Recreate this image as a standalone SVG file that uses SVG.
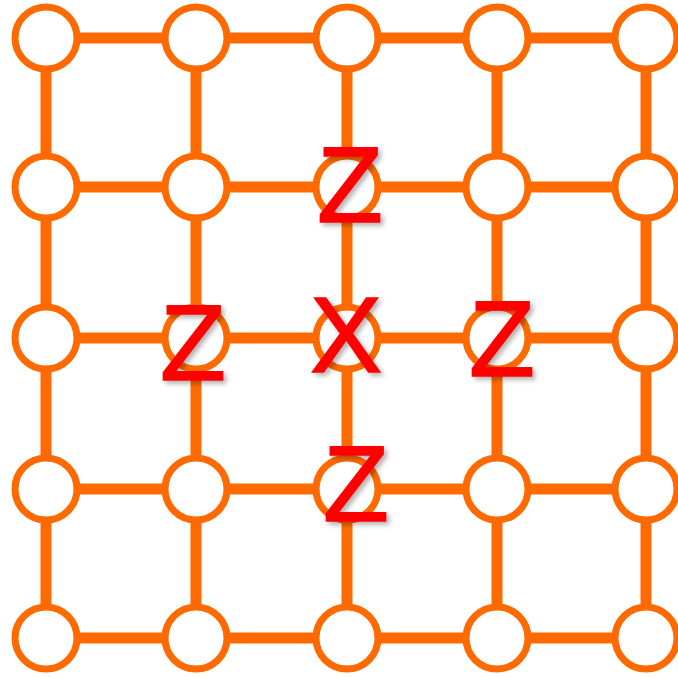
<svg xmlns="http://www.w3.org/2000/svg" width="678" height="677" viewBox="0 0 678 677">
<defs>
<style>
.e{stroke:#FF6A00;stroke-width:11;fill:none}
.n{fill:#fff;stroke:#FF6A00;stroke-width:7}
.l{fill:#FF0000;stroke:#FF0000;stroke-width:1.5;font-family:"Liberation Sans",Arial,sans-serif;font-size:108px;text-anchor:middle;filter:url(#sh)}
</style>
<filter id="sh" x="-30%" y="-30%" width="160%" height="160%">
<feDropShadow dx="3" dy="3" stdDeviation="2.5" flood-color="#000" flood-opacity="0.3"/>
</filter>
</defs>
<rect width="678" height="677" fill="#fff"/>
<g id="connectors">
<path class="e" d="M46 38H646M46 187H646M46 338H646M46 489H646M46 638H646M46 38V638M196 38V638M347 38V638M497 38V638M646 38V638"/>
</g>
<g id="r0">
<circle id="n00" class="n" cx="46" cy="38" r="31"/>
<circle id="n01" class="n" cx="196" cy="38" r="31"/>
<circle id="n02" class="n" cx="347" cy="38" r="31"/>
<circle id="n03" class="n" cx="497" cy="38" r="31"/>
<circle id="n04" class="n" cx="646" cy="38" r="31"/>
</g>
<g id="r1">
<circle id="n10" class="n" cx="46" cy="187" r="31"/>
<circle id="n11" class="n" cx="196" cy="187" r="31"/>
<g id="n12"><circle class="n" cx="347" cy="187" r="31"/><text class="l" x="350" y="222">Z</text></g>
<circle id="n13" class="n" cx="497" cy="187" r="31"/>
<circle id="n14" class="n" cx="646" cy="187" r="31"/>
</g>
<g id="r2">
<circle id="n20" class="n" cx="46" cy="338" r="31"/>
<g id="n21"><circle class="n" cx="196" cy="338" r="31"/><text class="l" x="193" y="380">Z</text></g>
<g id="n22"><circle class="n" cx="347" cy="338" r="31"/><text class="l" x="346" y="372">X</text></g>
<g id="n23"><circle class="n" cx="497" cy="338" r="31"/><text class="l" x="502" y="376">Z</text></g>
<circle id="n24" class="n" cx="646" cy="338" r="31"/>
</g>
<g id="r3">
<circle id="n30" class="n" cx="46" cy="489" r="31"/>
<circle id="n31" class="n" cx="196" cy="489" r="31"/>
<g id="n32"><circle class="n" cx="347" cy="489" r="31"/><text class="l" x="356" y="521">Z</text></g>
<circle id="n33" class="n" cx="497" cy="489" r="31"/>
<circle id="n34" class="n" cx="646" cy="489" r="31"/>
</g>
<g id="r4">
<circle id="n40" class="n" cx="46" cy="638" r="31"/>
<circle id="n41" class="n" cx="196" cy="638" r="31"/>
<circle id="n42" class="n" cx="347" cy="638" r="31"/>
<circle id="n43" class="n" cx="497" cy="638" r="31"/>
<circle id="n44" class="n" cx="646" cy="638" r="31"/>
</g>
</svg>
